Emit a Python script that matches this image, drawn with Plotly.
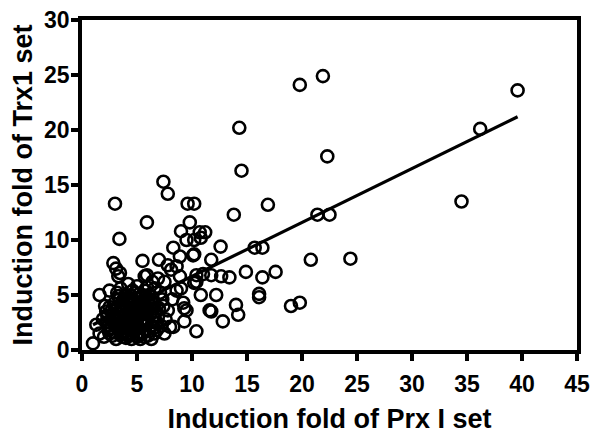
import plotly.graph_objects as go

# Induction fold values (x: Prx I set, y: Trx1 set)
prx_outer = [19.8, 21.9, 39.6, 14.3, 36.2, 22.3, 14.5, 7.4, 7.8, 34.5, 3.0, 9.6, 10.2, 16.9,
             13.8, 21.4, 22.5, 5.9, 9.8, 3.4, 9.0, 10.7, 11.2, 9.5, 10.2, 10.8, 8.3, 12.6,
             15.7, 16.4, 10.2, 5.5, 7.0, 2.85, 7.8, 8.6, 3.1, 3.45, 11.75, 10.1, 8.9, 8.1,
             14.9, 17.6, 16.4, 13.4, 11.75, 12.65, 11.0, 10.4, 8.9, 20.8, 24.4, 12.2, 10.8,
             16.1, 16.1, 19.0, 19.8, 14.0, 14.2, 12.8, 11.75, 10.4, 9.5, 9.3, 8.0, 8.3, 7.5,
             6.6, 8.6, 9.2, 10.4, 10.2, 9.0, 7.5, 6.9, 3.3, 5.7, 5.9, 1.6, 2.5, 3.3, 1.0,
             1.6, 1.3, 2.2, 11.6, 9.3]
trx_outer = [24.1, 24.9, 23.6, 20.2, 20.1, 17.6, 16.3, 15.3, 14.2, 13.5, 13.3, 13.3, 13.3, 13.2,
             12.3, 12.3, 12.3, 11.6, 11.6, 10.1, 10.8, 10.7, 10.7, 10.0, 10.0, 10.2, 9.3, 9.4,
             9.3, 9.3, 8.7, 8.1, 8.2, 7.9, 7.7, 7.6, 7.4, 7.0, 8.2, 8.6, 8.5, 7.3,
             7.1, 7.1, 6.6, 6.6, 6.8, 6.7, 6.9, 6.8, 6.7, 8.2, 8.3, 5.0, 5.0,
             5.1, 4.8, 4.0, 4.3, 4.1, 3.2, 2.6, 3.5, 1.7, 3.6, 2.6, 2.1, 2.1, 1.5,
             1.5, 5.4, 4.3, 6.2, 6.1, 5.6, 6.2, 6.5, 6.7, 6.7, 6.8, 5.0, 5.4, 4.9, 0.6,
             1.5, 2.3, 3.5, 3.6, 3.8]

prx_cluster = [2.0, 2.4, 2.8, 3.2, 3.5, 3.8, 4.0, 4.2, 4.5, 4.7, 5.0, 5.2, 5.5, 5.8, 6.0, 6.3,
               2.6, 3.0, 3.4, 3.6, 3.9, 4.1, 4.4, 4.6, 4.9, 5.1, 5.4, 5.6, 5.9, 6.2, 6.5, 6.8,
               7.0, 7.3, 2.9, 3.3, 3.7, 4.0, 4.3, 4.8, 5.3, 5.7, 6.1, 6.6, 7.1, 2.4, 1.9, 2.1,
               4.5, 5.3, 3.1, 6.8, 7.6, 7.8, 8.2, 4.2, 5.0, 3.5, 6.4, 5.5, 4.4, 3.7, 6.0, 4.9,
               5.8, 3.2, 2.7, 4.6, 7.4, 6.3,
               3.0, 3.5, 4.0, 4.3, 4.8, 5.2, 5.6, 6.1, 3.3, 3.8, 4.2, 4.7, 5.0, 5.4, 5.8, 6.4,
               3.6, 4.1, 4.5, 5.1, 5.5, 6.0, 2.7, 2.3, 6.7, 4.0, 4.9, 3.4, 5.3, 4.6,
               2.5, 3.7, 4.4, 5.0, 5.7, 6.5, 6.9, 2.8, 3.1, 3.9, 4.3, 4.8, 5.2, 5.6, 6.2, 6.6,
               3.4, 3.9, 4.6, 5.2, 5.9, 6.4, 2.5, 2.2, 7.2, 4.1, 5.9, 3.0, 4.4, 5.5]
trx_cluster = [1.2, 1.8, 1.3, 2.0, 1.4, 2.6, 1.1, 1.9, 1.5, 2.4, 1.2, 2.0, 1.6, 2.8, 1.3, 2.2,
               2.7, 3.1, 2.4, 3.5, 3.0, 3.8, 2.8, 3.3, 4.0, 3.0, 3.6, 4.4, 3.3, 4.0, 3.1, 2.5,
               3.8, 4.6, 4.2, 3.9, 4.5, 5.0, 4.3, 5.2, 4.8, 5.4, 5.0, 5.6, 5.2, 2.2, 2.8, 4.0,
               1.0, 1.0, 1.0, 1.8, 2.8, 3.6, 4.6, 6.0, 5.8, 5.6, 6.2, 2.5, 3.5, 2.0, 3.7, 2.7,
               4.8, 5.2, 3.6, 4.6, 4.0, 1.0,
               1.6, 2.2, 2.5, 1.3, 1.8, 1.4, 2.2, 1.7, 3.3, 3.6, 3.1, 3.7, 3.4, 2.7, 3.9, 2.7,
               4.1, 4.4, 4.9, 4.3, 5.0, 4.5, 2.0, 3.1, 3.5, 1.7, 2.3, 1.8, 3.9, 2.0,
               1.5, 1.2, 2.2, 2.6, 1.2, 2.0, 3.0, 3.3, 2.6, 2.3, 3.8, 3.0, 3.2, 3.5, 3.2, 4.2,
               4.6, 4.9, 5.4, 5.1, 5.7, 4.8, 3.9, 2.5, 2.2, 1.4, 2.5, 2.2, 4.1, 4.2]

prx = prx_outer + prx_cluster
trx = trx_outer + trx_cluster

# Linear regression line
fit_slope = 0.49
fit_intercept = 1.8

x_ticks = [0, 5, 10, 15, 20, 25, 30, 35, 40, 45]
y_ticks = [0, 5, 10, 15, 20, 25, 30]

x_line = [min(prx), max(prx)]
y_line = [fit_slope * v + fit_intercept for v in x_line]

fig = go.Figure()
fig.add_trace(go.Scatter(
    x=prx, y=trx, mode="markers",
    marker=dict(symbol="circle-open", size=12, color="black",
                line=dict(width=2.6, color="black")),
    showlegend=False, cliponaxis=False,
))
fig.add_trace(go.Scatter(
    x=x_line, y=y_line, mode="lines",
    line=dict(color="black", width=3.2), showlegend=False,
))

font_family = "Liberation Sans, Arial, sans-serif"
axis_common = dict(
    showline=True, linecolor="black", linewidth=3.5, mirror=True,
    ticks="outside", ticklen=7, tickwidth=3.5, tickcolor="black",
    showgrid=False, zeroline=False, automargin=False,
    ticklabeloverflow="allow",
    tickfont=dict(family=font_family, size=23, color="black", weight="bold"),
)

# the page body adds an 8px offset; margins compensate for it
fig.update_layout(
    width=600, height=441,
    margin=dict(l=74, r=31, t=12, b=99),
    paper_bgcolor="white", plot_bgcolor="white",
    xaxis=dict(range=[0, 45], tickvals=x_ticks, ticklabelstandoff=4,
               title=dict(text="<b>Induction fold of Prx I set</b>",
                          font=dict(family=font_family, size=27, color="black"),
                          standoff=14),
               **axis_common),
    yaxis=dict(range=[0, 30], tickvals=y_ticks, ticklabelstandoff=-3,
               title=dict(text="<b>Induction fold of Trx1 set</b>",
                          font=dict(family=font_family, size=27, color="black"),
                          standoff=6),
               **axis_common),
)

fig.write_html("out.html")
